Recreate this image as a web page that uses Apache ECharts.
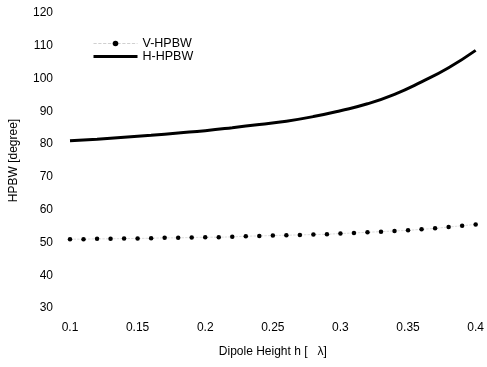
<!DOCTYPE html>
<html><head><meta charset="utf-8">
<script src="https://cdn.jsdelivr.net/npm/echarts@6/dist/echarts.min.js"></script>
<style>html,body{margin:0;padding:0;background:#fff}#c{width:487px;height:367px}</style>
</head><body><div id="c"></div>
<script>
const vH = [0.10,0.11,0.12,0.13,0.14,0.15,0.16,0.17,0.18,0.19,0.20,0.21,0.22,0.23,0.24,0.25,0.26,0.27,0.28,0.29,0.30,0.31,0.32,0.33,0.34,0.35,0.36,0.37,0.38,0.39,0.40];
const vHPBW = [51.0,51.0,51.1,51.1,51.2,51.2,51.3,51.4,51.4,51.5,51.6,51.6,51.7,51.9,52.0,52.1,52.2,52.3,52.4,52.5,52.7,52.9,53.1,53.3,53.5,53.7,54.0,54.3,54.7,55.1,55.5];
const hH = [0.10,0.12,0.14,0.16,0.18,0.20,0.22,0.24,0.26,0.28,0.30,0.32,0.34,0.36,0.38,0.40];
const hHPBW = [81.0,81.5,82.1,82.7,83.4,84.1,85.0,86.0,87.0,88.4,90.2,92.3,95.2,99.0,103.3,108.6];
const xTicks = [0.1,0.15,0.2,0.25,0.3,0.35,0.4];

const font = 'Liberation Sans, Arial, sans-serif';
const chart = echarts.init(document.getElementById('c'), null, {renderer:'canvas'});
chart.setOption({
  animation:false,
  backgroundColor:'#fff',
  grid:{left:67,right:9,top:13,bottom:59},
  legend:{
    orient:'vertical', left:87, top:32, itemGap:0, itemWidth:44, itemHeight:7,
    textStyle:{fontFamily:font,fontSize:12.5,color:'#000'},
    data:[{name:'V-HPBW',lineStyle:{color:'#c4c4c4',width:0.8,type:'dashed'}},
          {name:'H-HPBW',itemStyle:{opacity:0},lineStyle:{color:'#000',width:3}}]
  },
  xAxis:{
    type:'value', min:0.1, max:0.4, interval:0.05,
    axisLine:{show:false}, axisTick:{show:false}, splitLine:{show:false},
    axisLabel:{margin:14,color:'#000',fontFamily:font,fontSize:12,
      formatter:v=>{const t=xTicks.find(x=>Math.abs(x-v)<1e-6);return t===undefined?'':String(t);}},
    name:'Dipole Height h [   λ]', nameLocation:'middle', nameGap:38,
    nameTextStyle:{color:'#000',fontFamily:font,fontSize:12}
  },
  yAxis:{
    type:'value', min:30, max:120, interval:10,
    axisLine:{show:false}, axisTick:{show:false}, splitLine:{show:false},
    axisLabel:{margin:17,color:'#000',fontFamily:font,fontSize:12},
    name:'HPBW [degree]', nameLocation:'middle', nameGap:50,
    nameTextStyle:{color:'#000',fontFamily:font,fontSize:12}
  },
  series:[
    {name:'V-HPBW', type:'line', data:vH.map((x,i)=>[x,vHPBW[i]]),
     symbol:'circle', symbolSize:4.5, showSymbol:true,
     itemStyle:{color:'#000'},
     lineStyle:{color:'#c4c4c4',width:0.6,type:'dashed'}},
    {name:'H-HPBW', type:'line', data:hH.map((x,i)=>[x,hHPBW[i]]),
     smooth:true, symbol:'none', showSymbol:false,
     itemStyle:{color:'#000'},
     lineStyle:{color:'#000',width:3}}
  ]
});
</script></body></html>
